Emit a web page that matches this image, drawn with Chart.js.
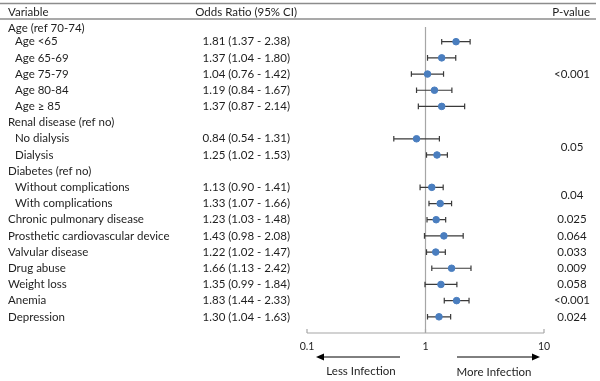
<!DOCTYPE html>
<html><head><meta charset="utf-8">
<script src="https://cdn.jsdelivr.net/npm/chart.js@4/dist/chart.umd.min.js"></script>
<style>html,body{margin:0;padding:0;background:#fff}#wrap{width:600px;height:381px;position:relative}</style>
</head><body><div id="wrap"><canvas id="c" width="600" height="381"></canvas></div>
<script>
const variables = ["Age (ref 70-74)","Age <65","Age 65-69","Age 75-79","Age 80-84","Age \u2265 85","Renal disease (ref no)","No dialysis","Dialysis","Diabetes (ref no)","Without complications","With complications","Chronic pulmonary disease","Prosthetic cardiovascular device","Valvular disease","Drug abuse","Weight loss","Anemia","Depression"];
const indented = [0,1,1,1,1,1,0,1,1,0,1,1,0,0,0,0,0,0,0];
const oddsRatio = [null,1.81,1.37,1.04,1.19,1.37,null,0.84,1.25,null,1.13,1.33,1.23,1.43,1.22,1.66,1.35,1.83,1.30];
const ciLow =     [null,1.37,1.04,0.76,0.84,0.87,null,0.54,1.02,null,0.90,1.07,1.03,0.98,1.02,1.13,0.99,1.44,1.04];
const ciHigh =    [null,2.38,1.80,1.42,1.67,2.14,null,1.31,1.53,null,1.41,1.66,1.48,2.08,1.47,2.42,1.84,2.33,1.63];
const pValues = ["<0.001","0.05","0.04","0.025","0.064","0.033","0.009","0.058","<0.001","0.024"];
const pRows =   [3,7.5,10.5,12,13,14,15,16,17,18];
const xTicks = [0.1,1,10];

const FONT = '11.5px Lato, "Liberation Sans", sans-serif';
const TXT = '#1e1e1e';
function fmt(v){return v.toFixed(2);}

const points = [];
oddsRatio.forEach((v,i)=>{ if(v!==null) points.push({x:v,y:i,lo:ciLow[i],hi:ciHigh[i]}); });

const forestPlugin = {
  id:'forest',
  beforeDatasetsDraw(chart){
    const ctx = chart.ctx, xs = chart.scales.x, ys = chart.scales.y, ca = chart.chartArea;
    ctx.save();
    // header rules
    ctx.strokeStyle = '#8c8c8c'; ctx.lineWidth = 1.5;
    ctx.beginPath(); ctx.moveTo(0,3.5); ctx.lineTo(596,3.5); ctx.stroke();
    ctx.beginPath(); ctx.moveTo(0,19); ctx.lineTo(596,19); ctx.stroke();
    ctx.font = FONT; ctx.fillStyle = TXT; ctx.textBaseline = 'middle';
    ctx.textAlign = 'left'; ctx.fillText('Variable', 8, 12);
    ctx.textAlign = 'right'; ctx.fillText('Odds Ratio (95% CI)', 297, 12);
    ctx.fillText('P-value', 590, 12);
    // rows
    variables.forEach((name,i)=>{
      const y = ys.getPixelForValue(i) + (i===0?3:0);
      ctx.textAlign='left'; ctx.fillText(name, indented[i]?15:8, y);
      if(oddsRatio[i]!==null){
        ctx.textAlign='right';
        ctx.fillText(fmt(oddsRatio[i])+' ('+fmt(ciLow[i])+' - '+fmt(ciHigh[i])+')', 290, y);
      }
    });
    ctx.textAlign='center';
    pValues.forEach((p,k)=>{ ctx.fillText(p, 572, ys.getPixelForValue(pRows[k])); });
    // reference line at 1
    const x1 = xs.getPixelForValue(1);
    ctx.strokeStyle='#a6a6a6'; ctx.lineWidth=1.2;
    ctx.beginPath(); ctx.moveTo(x1, ys.getPixelForValue(0.1)); ctx.lineTo(x1, ca.bottom); ctx.stroke();
    // x axis
    ctx.beginPath(); ctx.moveTo(xs.getPixelForValue(0.1), ca.bottom); ctx.lineTo(xs.getPixelForValue(10), ca.bottom); ctx.stroke();
    xTicks.forEach(t=>{
      const x = xs.getPixelForValue(t);
      ctx.beginPath(); ctx.moveTo(x, ca.bottom-4); ctx.lineTo(x, ca.bottom); ctx.stroke();
      ctx.fillStyle=TXT; ctx.textAlign='center'; ctx.font='10.5px Lato, "Liberation Sans", sans-serif';
      ctx.fillText(String(t), x, ca.bottom+14);
    });
    // arrows
    ctx.strokeStyle='#000'; ctx.fillStyle='#000'; ctx.lineWidth=1;
    const ay = ca.bottom+24;
    ctx.beginPath(); ctx.moveTo(400,ay); ctx.lineTo(322,ay); ctx.stroke();
    ctx.beginPath(); ctx.moveTo(316,ay); ctx.lineTo(324,ay-3.5); ctx.lineTo(324,ay+3.5); ctx.closePath(); ctx.fill();
    ctx.beginPath(); ctx.moveTo(457,ay); ctx.lineTo(534,ay); ctx.stroke();
    ctx.beginPath(); ctx.moveTo(540,ay); ctx.lineTo(532,ay-3.5); ctx.lineTo(532,ay+3.5); ctx.closePath(); ctx.fill();
    ctx.fillStyle=TXT; ctx.font=FONT; ctx.textAlign='center';
    ctx.fillText('Less Infection', 361, ay+14);
    ctx.fillText('More Infection', 494, ay+15);
    // error bars
    ctx.strokeStyle='#3a3a3a'; ctx.lineWidth=1.2;
    points.forEach(p=>{
      const y = ys.getPixelForValue(p.y), a = xs.getPixelForValue(p.lo), b = xs.getPixelForValue(p.hi);
      ctx.beginPath(); ctx.moveTo(a,y); ctx.lineTo(b,y);
      ctx.moveTo(a,y-2.8); ctx.lineTo(a,y+2.8);
      ctx.moveTo(b,y-2.8); ctx.lineTo(b,y+2.8); ctx.stroke();
    });
    ctx.restore();
  }
};

new Chart(document.getElementById('c'), {
  type:'scatter',
  data:{datasets:[{data:points, backgroundColor:'#4a7ebf', borderColor:'#4a7ebf', pointRadius:3.3, pointHoverRadius:3.3}]},
  options:{
    responsive:false, animation:false,
    layout:{padding:{left:307, right:56, top:25.5, bottom:48}},
    plugins:{legend:{display:false}, tooltip:{enabled:false}},
    scales:{
      x:{type:'logarithmic', min:0.1, max:10, display:false},
      y:{type:'linear', min:0, max:19, reverse:true, display:false}
    }
  },
  plugins:[forestPlugin]
});
</script></body></html>
